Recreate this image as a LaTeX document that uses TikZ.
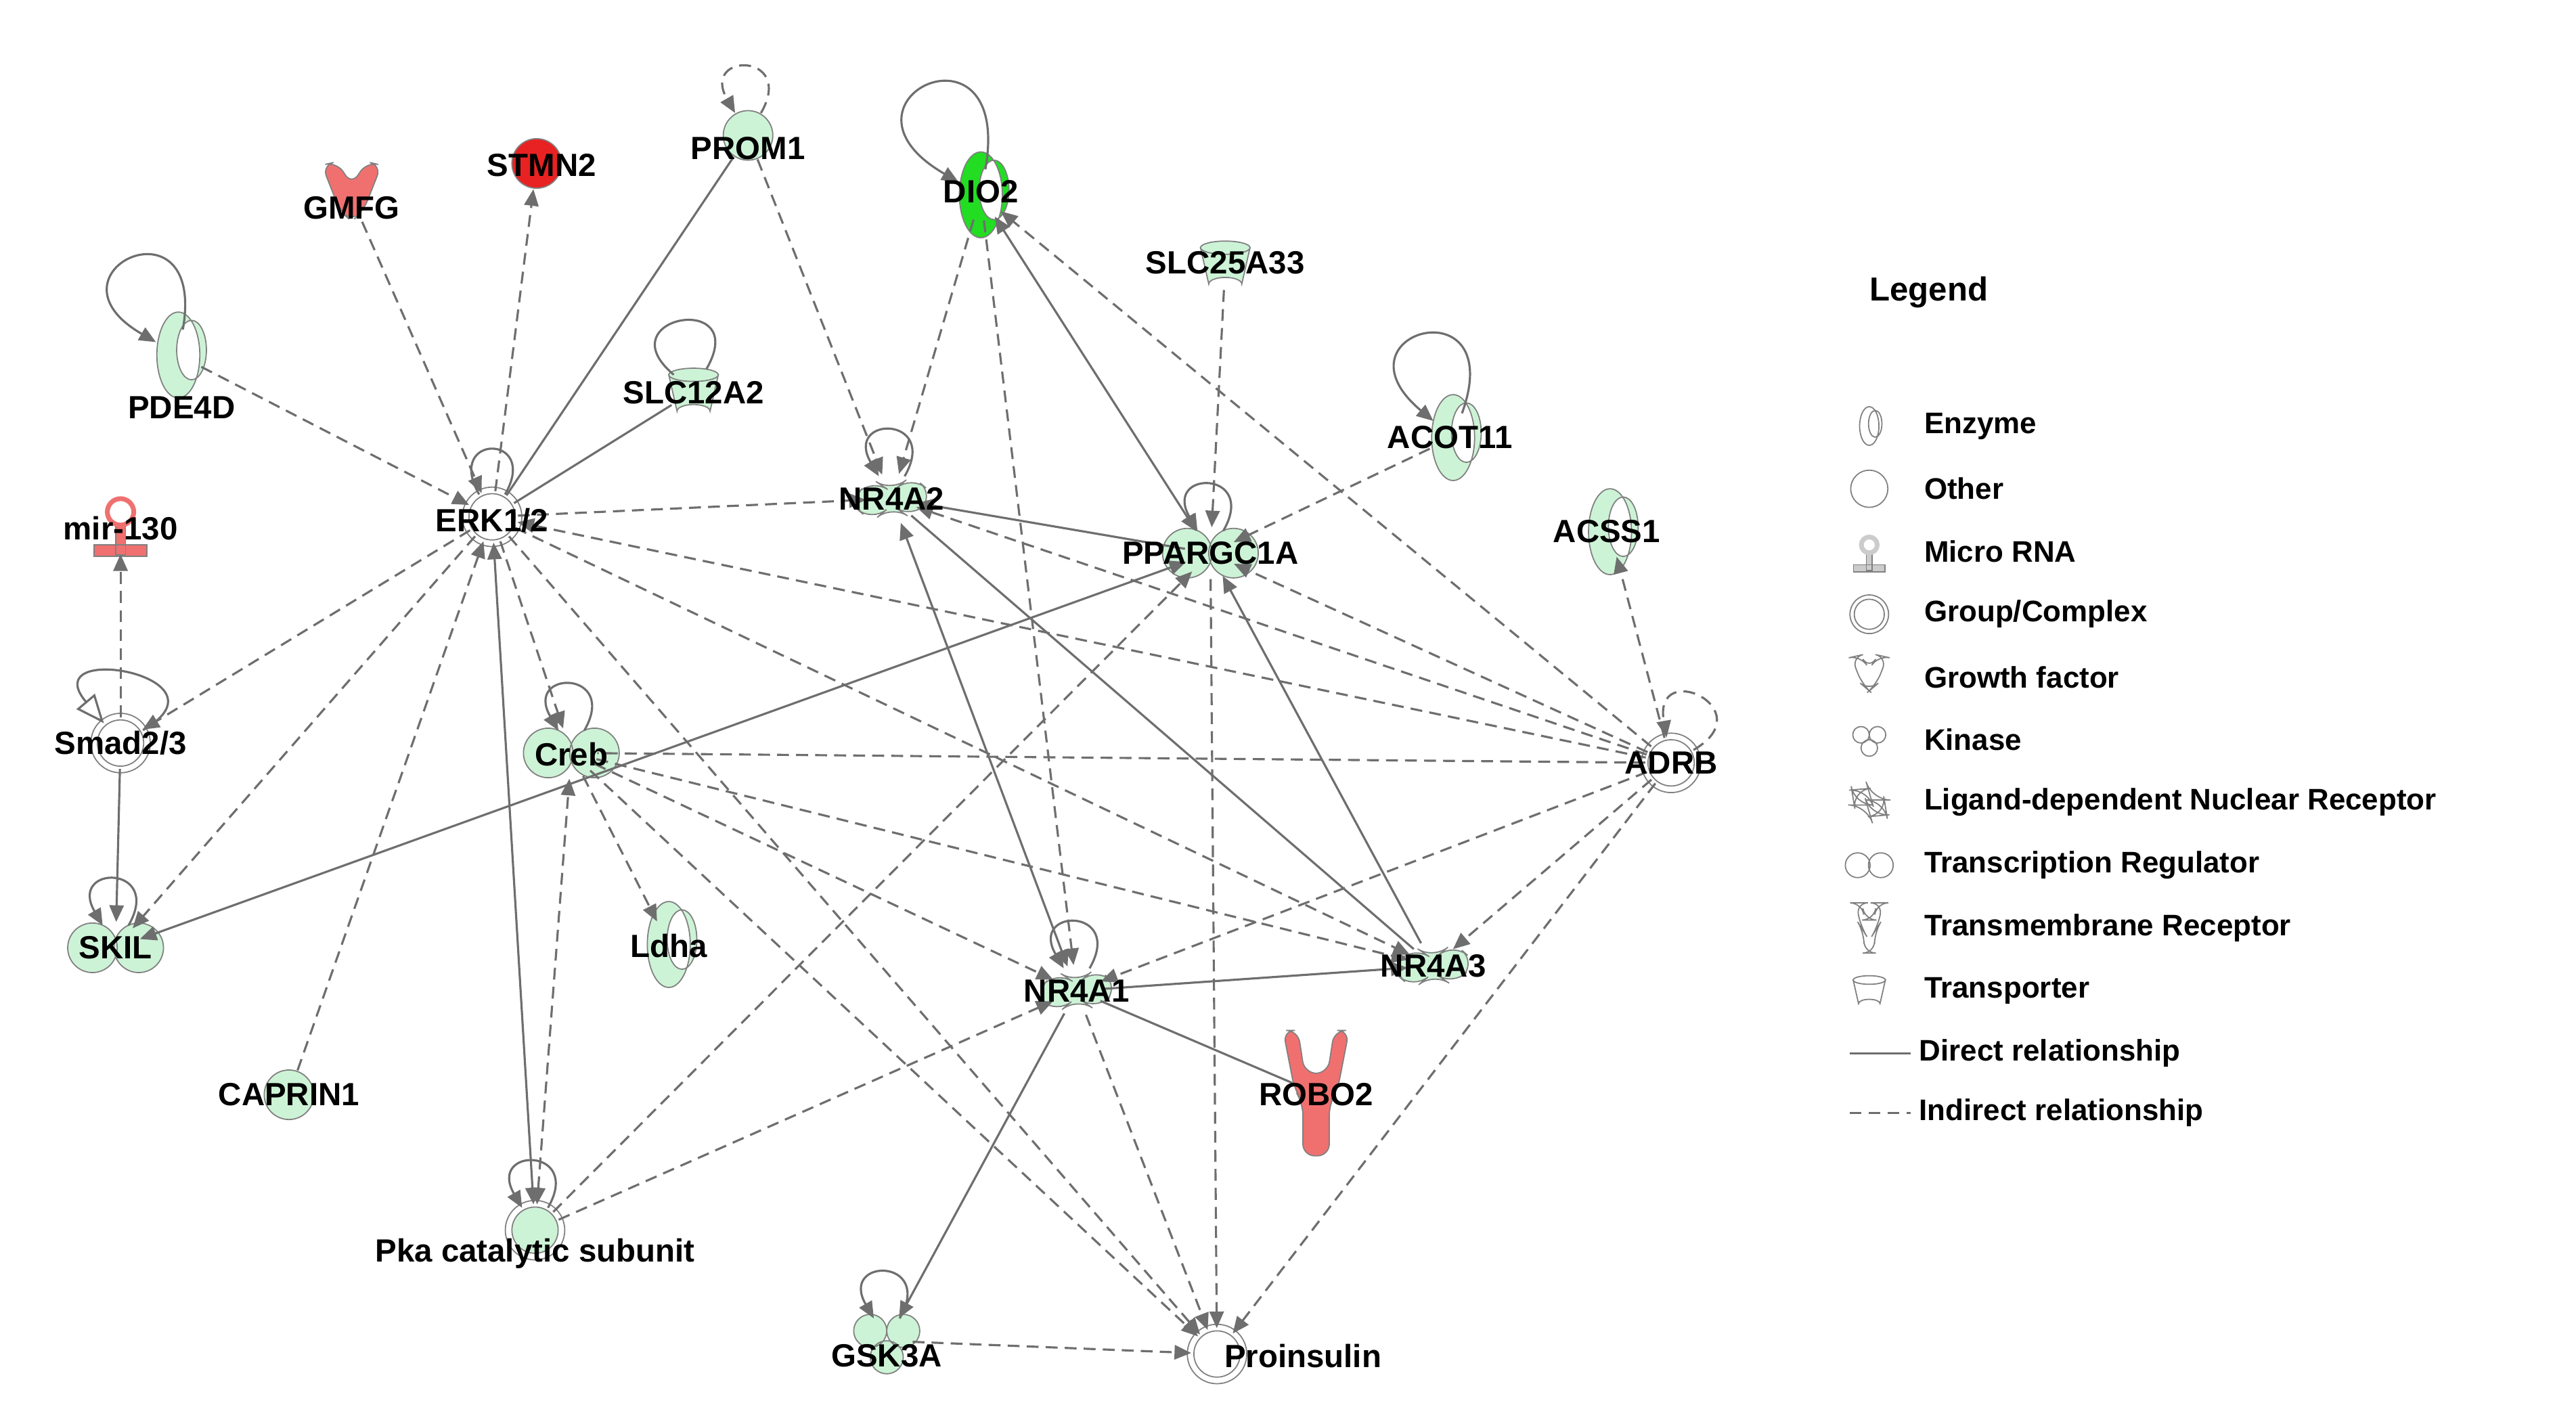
\documentclass[tikz,border=0pt]{standalone}
\usepackage{fontspec}
\setmainfont{Liberation Sans}
\usetikzlibrary{arrows.meta}
\definecolor{lg}{HTML}{CDF3D6}
\definecolor{rd}{HTML}{F07070}
\definecolor{rr}{HTML}{E82222}
\definecolor{gg}{HTML}{22DD22}
\definecolor{ln}{HTML}{6E6E6E}
\begin{document}
\begin{tikzpicture}[x=0.0244cm,y=-0.0244cm,
 lab/.style={font=\fontsize{13.5}{16}\selectfont\bfseries,inner sep=0pt},
 leg/.style={font=\fontsize{12.5}{15}\selectfont\bfseries,anchor=west,inner sep=0pt},
 nd/.style={circle,minimum size=0.75cm,inner sep=0pt},
 sh/.style={draw=gray,line width=0.5pt},
 sl/.style={draw=ln,line width=0.9pt,-{Triangle[length=7pt,width=6pt]}},
 sn/.style={draw=ln,line width=0.9pt},
 dl/.style={draw=ln,line width=0.9pt,dash pattern=on 5pt off 3pt,-{Triangle[length=7pt,width=6pt]}},
 dn/.style={draw=ln,line width=0.9pt,dash pattern=on 5pt off 3pt},
 pics/other/.style={code={\path[sh,fill=#1] (0,0) circle (15);}},
 pics/grp/.style={code={\path[sh,fill=white] (0,0) circle (18); \path[sh,fill=#1] (0,0) circle (14);}},
 pics/tr/.style={code={\path[sh,fill=#1] (-14,0) circle (15) (14,0) circle (15);}},
 pics/ncr/.style={code={\path[sh,fill=#1,rounded corners=8] (-26,2)--(-12,-12)--(0,-4)--(12,-14)--(26,-2)--(12,12)--(0,4)--(-12,14)--cycle;}},
 pics/enz/.style={code={\path[sh,fill=#1,even odd rule] (0,0) ellipse (13 and 26) (8,-3) ellipse (9 and 18);}},
 pics/tp/.style={code={\path[sh,fill=#1] (-15,-10)--(15,-10)--(10,12) arc (0:-180:10 and 4)--cycle; \path[sh,fill=#1] (0,-10) ellipse (15 and 4);}},
 pics/gf/.style={code={\path[sh,fill=#1,rounded corners=5] (-18,-20)--(-9,-22)--(0,-8)--(9,-22)--(18,-20)--(7,8)--(0,14)--(-7,8)--cycle;}},
 pics/tmr/.style={code={\path[sh,fill=#1,rounded corners=5] (-20,-38)--(-11,-38)--(-7,-12)--(7,-12)--(11,-38)--(20,-38)--(13,-2)--(8,6)--(8,38)--(-8,38)--(-8,6)--(-13,-2)--cycle;}},
 pics/kin/.style={code={\path[sh,fill=#1] (-10,-6) circle (10) (10,-6) circle (10) (0,10) circle (10);}},
 pics/mir/.style={code={\path[sh,fill=#1] (-3,-2) rectangle (3,16) (-16,10) rectangle (16,17); \path[sh,fill=white,line width=2pt,draw=#1] (0,-10) circle (8);}},
]
\useasboundingbox (0,0) rectangle (1560,863.5);
% shapes
\pic at (453,82) {other=lg};
\pic at (325,99) {other=rr};
\pic at (213,120) {gf=rd};
\pic at (594,118) {enz=gg};
\pic at (742,160) {tp=lg};
\pic at (108,215) {enz=lg};
\pic at (420,237) {tp=lg};
\pic at (298,313) {grp=white};
\pic at (540,302) {ncr=lg};
\pic at (733,335) {tr=lg};
\pic at (880,265) {enz=lg};
\pic at (975,322) {enz=lg};
\pic at (73,320) {mir=rd};
\pic at (73,450) {grp=white};
\pic at (346,456) {tr=lg};
\pic at (1012,462) {grp=white};
\pic at (70,574) {tr=lg};
\pic at (405,572) {enz=lg};
\pic at (652,600) {ncr=lg};
\pic at (868,585) {ncr=lg};
\pic at (797,662) {tmr=rd};
\pic at (175,663) {other=lg};
\pic at (324,745) {grp=lg};
\pic at (537,812) {kin=lg};
\pic at (737,820) {grp=white};
% named nodes
\node[nd] (PROM1) at (453,82) {};
\node[nd] (STMN2) at (325,99) {};
\node[nd] (GMFG) at (213,120) {};
\node[nd] (DIO2) at (594,118) {};
\node[nd] (SLC25A33) at (742,160) {};
\node[nd] (PDE4D) at (108,215) {};
\node[nd] (SLC12A2) at (420,237) {};
\node[nd] (ERK) at (298,313) {};
\node[nd] (NR4A2) at (540,302) {};
\node[nd] (PPARGC1A) at (733,335) {};
\node[nd] (ACOT11) at (880,265) {};
\node[nd] (ACSS1) at (975,322) {};
\node[nd] (mir) at (73,320) {};
\node[nd] (Smad) at (73,450) {};
\node[nd] (Creb) at (346,456) {};
\node[nd] (ADRB) at (1012,462) {};
\node[nd] (SKIL) at (70,574) {};
\node[nd] (Ldha) at (405,572) {};
\node[nd] (NR4A1) at (652,600) {};
\node[nd] (NR4A3) at (868,585) {};
\node[nd] (ROBO2) at (797,662) {};
\node[nd] (CAPRIN1) at (175,663) {};
\node[nd] (Pka) at (324,745) {};
\node[nd] (GSK3A) at (537,812) {};
\node[nd] (Pro) at (737,820) {};
% self loops
\draw[dl] (PROM1) to[out=60,in=120,looseness=7] (PROM1);
\draw[sl] (DIO2) to[out=80,in=150,looseness=14] (DIO2);
\draw[sl] (PDE4D) to[out=80,in=150,looseness=12] (PDE4D);
\draw[sl] (ACOT11) to[out=70,in=140,looseness=12] (ACOT11);
\draw[sn] (SLC12A2) to[out=60,in=140,looseness=7] (SLC12A2);
\draw[sn] (ERK) to[out=60,in=120,looseness=7] (ERK);
\draw[sl] (NR4A2) to[out=60,in=120,looseness=7] (NR4A2);
\draw[sl] (PPARGC1A) to[out=60,in=120,looseness=7] (PPARGC1A);
\draw[draw=ln,line width=0.9pt,-{Triangle[open,length=12pt,width=10pt]}] (Smad) to[out=30,in=130,looseness=7] (Smad);
\draw[sl] (SKIL) to[out=60,in=120,looseness=7] (SKIL);
\draw[sl] (Creb) to[out=60,in=120,looseness=7] (Creb);
\draw[dl] (ADRB) to[out=30,in=100,looseness=7] (ADRB);
\draw[sl] (NR4A1) to[out=60,in=120,looseness=7] (NR4A1);
\draw[sl] (Pka) to[out=60,in=120,looseness=7] (Pka);
\draw[sl] (GSK3A) to[out=60,in=120,looseness=7] (GSK3A);
% edges
\draw[dl] (GMFG) -- (ERK);
\draw[dl] (ERK) -- (STMN2);
\draw[sn] (PROM1) -- (ERK);
\draw[dl] (PROM1) -- (NR4A2);
\draw[dl] (PDE4D) -- (ERK);
\draw[sn] (SLC12A2) -- (ERK);
\draw[dl] (ERK) -- (NR4A2);
\draw[dl] (DIO2) -- (NR4A2);
\draw[dl] (DIO2) -- (NR4A1);
\draw[sl,{Triangle[length=7pt,width=6pt]}-{Triangle[length=7pt,width=6pt]}] (DIO2) -- (PPARGC1A);
\draw[dl] (ADRB) -- (DIO2);
\draw[dl] (SLC25A33) -- (PPARGC1A);
\draw[dl] (ACOT11) -- (PPARGC1A);
\draw[sl] (PPARGC1A) -- (NR4A2);
\draw[sn] (NR4A2) -- (NR4A3);
\draw[sl,{Triangle[length=7pt,width=6pt]}-{Triangle[length=7pt,width=6pt]}] (NR4A2) -- (NR4A1);
\draw[dl] (PPARGC1A) -- (Pro);
\draw[dl] (ERK) -- (Smad);
\draw[dl] (ERK) -- (SKIL);
\draw[dl] (ERK) -- (Creb);
\draw[sl,{Triangle[length=7pt,width=6pt]}-{Triangle[length=7pt,width=6pt]}] (ERK) -- (Pka);
\draw[dl] (ERK) -- (NR4A3);
\draw[dl] (ERK) -- (Pro);
\draw[dl] (ADRB) -- (ERK);
\draw[dl] (ADRB) -- (PPARGC1A);
\draw[dl] (ADRB) -- (NR4A2);
\draw[dl] (ADRB) -- (ACSS1);
\draw[dn] (ADRB) -- (Creb);
\draw[dl] (ADRB) -- (NR4A1);
\draw[dl] (ADRB) -- (NR4A3);
\draw[dl] (ADRB) -- (Pro);
\draw[dl] (Smad) -- (mir);
\draw[sl] (Smad) -- (SKIL);
\draw[dl] (Creb) -- (Ldha);
\draw[dl] (Creb) -- (NR4A1);
\draw[dl] (Creb) -- (NR4A3);
\draw[dl] (Creb) -- (Pro);
\draw[sl,{Triangle[length=7pt,width=6pt]}-{Triangle[length=7pt,width=6pt]}] (SKIL) -- (PPARGC1A);
\draw[dl,{Triangle[length=7pt,width=6pt]}-{Triangle[length=7pt,width=6pt]}] (Pka) -- (Creb);
\draw[dl] (Pka) -- (PPARGC1A);
\draw[dl] (Pka) -- (NR4A1);
\draw[dl] (CAPRIN1) -- (ERK);
\draw[sl] (NR4A1) -- (NR4A3);
\draw[sn] (NR4A1) -- (ROBO2);
\draw[sl] (NR4A1) -- (GSK3A);
\draw[dl] (NR4A1) -- (Pro);
\draw[sl] (NR4A3) -- (PPARGC1A);
\draw[dl] (GSK3A) -- (Pro);
% labels
\node[lab] at (453,90) {PROM1};
\node[lab] at (328,100) {STMN2};
\node[lab] at (213,126) {GMFG};
\node[lab] at (594,116) {DIO2};
\node[lab] at (742,159) {SLC25A33};
\node[lab] at (110,247) {PDE4D};
\node[lab] at (420,238) {SLC12A2};
\node[lab] at (298,315) {ERK1/2};
\node[lab] at (540,302) {NR4A2};
\node[lab] at (733,335) {PPARGC1A};
\node[lab] at (878,265) {ACOT11};
\node[lab] at (973,322) {ACSS1};
\node[lab] at (73,320) {mir-130};
\node[lab] at (73,450) {Smad2/3};
\node[lab] at (346,457) {Creb};
\node[lab] at (1012,462) {ADRB};
\node[lab] at (70,574) {SKIL};
\node[lab] at (405,573) {Ldha};
\node[lab] at (652,600) {NR4A1};
\node[lab] at (868,585) {NR4A3};
\node[lab] at (797,663) {ROBO2};
\node[lab] at (175,663) {CAPRIN1};
\node[lab] at (324,759) {Pka catalytic subunit};
\node[lab] at (537,821) {GSK3A};
\node[lab] at (789,821) {Proinsulin};
% legend
\node[lab,font=\fontsize{14}{16}\selectfont\bfseries] at (1168,177) {Legend};
\foreach \t [count=\i] in {Enzyme,Other,Micro RNA,Group/Complex,Growth factor,Kinase,Ligand-dependent Nuclear Receptor,Transcription Regulator,Transmembrane Receptor,Transporter}
  \node[leg] at (1165,220+38*\i) {\t};
\node[leg] at (1162,638) {Direct relationship};
\node[leg] at (1162,674) {Indirect relationship};
\begin{scope}[line width=0.5pt]
\pic[scale=0.45] at (1132,258) {enz=white};
\pic[scale=0.75] at (1132,296) {other=white};
\pic[scale=0.6] at (1132,336) {mir=gray!40};
\pic[scale=0.65] at (1132,372) {grp=white};
\pic[scale=0.6] at (1132,410) {gf=white};
\pic[scale=0.5] at (1132,448) {kin=white};
\pic[scale=0.5,rotate=-40] at (1132,486) {ncr=white};
\pic[scale=0.5] at (1132,524) {tr=white};
\pic[scale=0.4] at (1132,562) {tmr=white};
\pic[scale=0.65] at (1132,600) {tp=white};
\end{scope}
\coordinate (l1) at (1120,638); \coordinate (l2) at (1157,638);
\coordinate (l3) at (1120,674); \coordinate (l4) at (1157,674);
\draw[sn] (l1) -- (l2);
\draw[dn] (l3) -- (l4);
\end{tikzpicture}
\end{document}
